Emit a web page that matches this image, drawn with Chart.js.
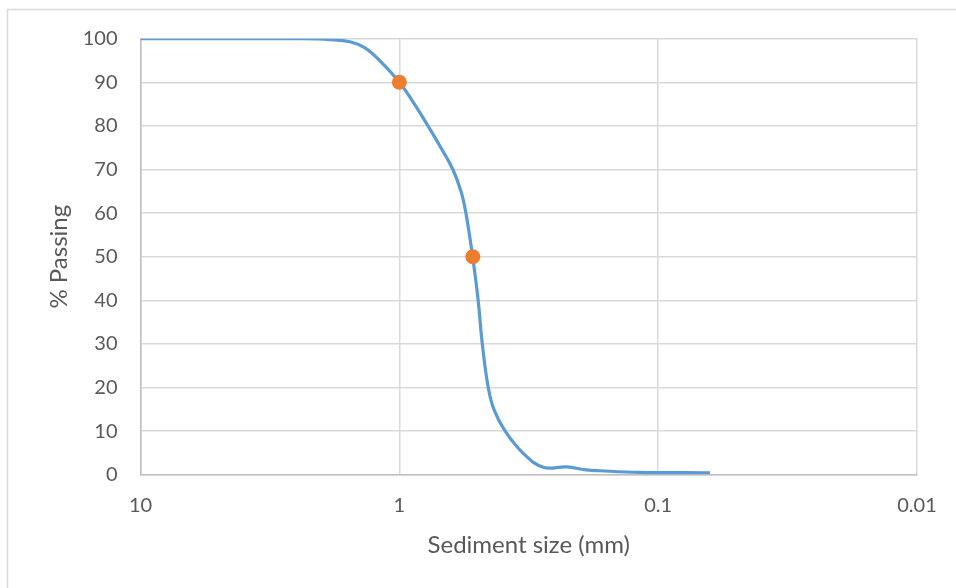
<!DOCTYPE html>
<html>
<head>
<meta charset="utf-8">
<script src="https://cdn.jsdelivr.net/npm/chart.js@4/dist/chart.umd.min.js"></script>
<style>
  html, body { margin: 0; padding: 0; background: #fff; }
  canvas { display: block; }
</style>
</head>
<body>
<canvas id="gradingChart" width="956" height="588"></canvas>
<script>
// ================= DATA =================
const sizeMm  = [10, 4, 2.42, 1.854, 1.552, 1.358, 1.188, 1.0, 0.874, 0.775, 0.691, 0.621, 0.578, 0.553, 0.521, 0.496, 0.478, 0.4535, 0.43, 0.39, 0.332, 0.278, 0.226, 0.189, 0.168, 0.118, 0.063];
const passing = [100, 100, 100, 99.8, 99.3, 97.9, 94.9, 90, 85, 80, 75, 70, 65, 60, 50, 40, 30, 20, 14.8, 10, 4.9, 1.7, 1.8, 1.1, 0.9, 0.55, 0.45];

const markerSize    = [1, 0.52];
const markerPassing = [90, 50];

const xTickValues = [10, 1, 0.1, 0.01];
const xTickLabels = ["10", "1", "0.1", "0.01"];

const xTitle = "Sediment size (mm)";
const yTitle = "% Passing";

// ================= STYLE =================
const FONT = "Lato, 'Open Sans', sans-serif";
const TEXT = "#595959";
const GRID = "#d9d9d9";

// outer chart frame (only top & left edges are visible in the picture)
const framePlugin = {
    id: "frame",
    beforeDraw(chart) {
        const ctx = chart.ctx;
        ctx.save();
        ctx.strokeStyle = GRID;
        ctx.lineWidth = 1.5;
        ctx.beginPath();
        ctx.moveTo(7.5, chart.height + 2);
        ctx.lineTo(7.5, 9.5);
        ctx.lineTo(chart.width + 2, 9.5);
        ctx.stroke();
        ctx.restore();
    }
};

new Chart(document.getElementById("gradingChart"), {
    type: "scatter",
    data: {
        datasets: [
            {
                label: "D points",
                data: markerSize.map((x, i) => ({ x: x, y: markerPassing[i] })),
                backgroundColor: "#ED7D31",
                borderColor: "#ED7D31",
                pointRadius: 7.5,
                pointBorderWidth: 0,
                showLine: false
            },
            {
                label: "Grading",
                data: sizeMm.map((x, i) => ({ x: x, y: passing[i] })),
                borderColor: "#5B9BD5",
                borderWidth: 3.2,
                pointRadius: 0,
                showLine: true,
                tension: 0.4,
                fill: false
            }
        ]
    },
    options: {
        responsive: false,
        devicePixelRatio: 1,
        animation: false,
        layout: { padding: { left: 0, top: 38.7, right: 39, bottom: 0 } },
        plugins: {
            legend: { display: false },
            tooltip: { enabled: false }
        },
        scales: {
            x: {
                type: "logarithmic",
                reverse: true,
                min: 0.01,
                max: 10,
                afterBuildTicks: scale => {
                    scale.ticks = xTickValues.map(v => ({ value: v }));
                },
                afterFit: scale => { scale.height = 588 - 474.7; },
                ticks: {
                    autoSkip: false,
                    maxRotation: 0,
                    padding: 19,
                    color: TEXT,
                    font: { family: FONT, size: 20 },
                    callback: (value, index) => xTickLabels[index]
                },
                grid: { color: GRID, lineWidth: 1.5, drawTicks: false },
                border: { color: "#bfbfbf", width: 1.5 },
                title: {
                    display: true,
                    text: xTitle,
                    color: TEXT,
                    font: { family: FONT, size: 24 },
                    padding: { top: 0, bottom: 28 }
                }
            },
            y: {
                min: 0,
                max: 100,
                afterFit: scale => { scale.width = 140.5; },
                ticks: {
                    stepSize: 10,
                    padding: 23,
                    color: TEXT,
                    font: { family: FONT, size: 20 }
                },
                grid: { color: GRID, lineWidth: 1.5, drawTicks: false },
                border: { color: "#bfbfbf", width: 1.5 },
                title: {
                    display: true,
                    text: yTitle,
                    color: TEXT,
                    font: { family: FONT, size: 24 },
                    padding: { top: 45, bottom: 0 }
                }
            }
        }
    },
    plugins: [framePlugin]
});
</script>
</body>
</html>
